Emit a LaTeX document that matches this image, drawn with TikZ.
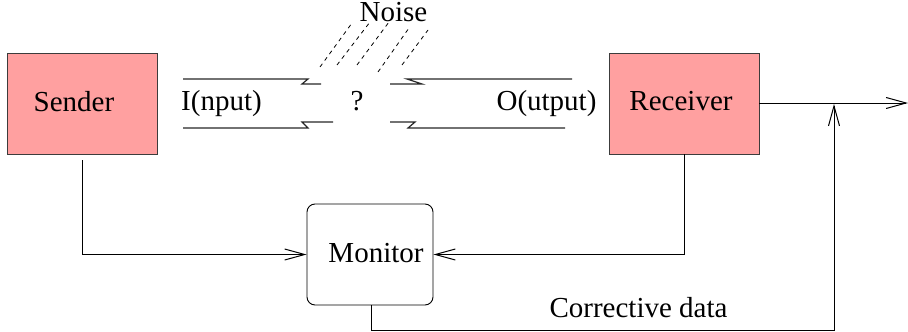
\documentclass[tikz,border=0pt]{standalone}
\usepackage{fontspec}
\setmainfont{Liberation Serif}
\usetikzlibrary{arrows.meta}
\definecolor{boxpink}{RGB}{255,160,160}
\definecolor{boxedge}{RGB}{60,60,60}
\tikzset{
  lbl/.style={font=\fontsize{29}{34}\selectfont, inner sep=0pt, anchor=base},
  pinkbox/.style={draw=boxedge, fill=boxpink, line width=0.9pt, minimum width=150pt, minimum height=101pt, inner sep=0pt},
  monbox/.style={draw=black, rounded corners=8pt, line width=0.9pt, minimum width=126pt, minimum height=101pt, inner sep=0pt},
  wire/.style={line width=1pt, draw=black},
  arr/.style={wire, -{Straight Barb[length=20pt,width=11pt,line width=1pt]}},
  brk/.style={line width=1.2pt, draw=black!85},
  noise/.style={line width=0.8pt, dash pattern=on 4pt off 4pt}
}
\begin{document}
\begin{tikzpicture}[x=1pt,y=-1pt]
\useasboundingbox (0,0) rectangle (908,332);
% boxes
\node[pinkbox] (sender) at (82,103.5) {};
\node[pinkbox] (receiver) at (684,103.5) {};
\node[monbox] (monitor) at (370,254.5) {};
% labels
\node[lbl] (tsender) at (74,111) {Sender};
\node[lbl] (treceiver) at (681,110) {Receiver};
\node[lbl] (tmonitor) at (376,262) {Monitor};
\node[lbl] (tcorr) at (638.5,317) {Corrective data};
\node[lbl] (tin) at (221.5,110) {I(nput)};
\node[lbl] (tq) at (357,110) {?};
\node[lbl] (tout) at (546.5,110) {O(utput)};
% noise lines
\draw[noise] (320,67) -- (352,23);
\draw[noise] (337,65) -- (370,22);
\draw[noise] (357,65) -- (389,22);
\draw[noise] (378,72) -- (409,28);
\draw[noise] (402,65) -- (428,30);
\node[lbl] (tnoise) at (393.5,21) {Noise};
% channel with breaks
\draw[brk] (183,79) -- (308,79) -- (302,84) -- (321,84);
\draw[brk] (183,128) -- (308,128) -- (302,122) -- (333,122);
\draw[brk] (390,84) -- (422,84) -- (407,79) -- (572,79);
\draw[brk] (390,122) -- (415,122) -- (408,128) -- (565,128);
% connectors
\coordinate (sstart) at (82,160);
\draw[arr] (sstart) |- (monitor.west);
\draw[arr] (receiver.south) |- (monitor.east);
\coordinate (outend) at (908,103);
\draw[arr] (receiver.east |- outend) -- (outend);
\coordinate (upend) at (834,104);
\coordinate (mbot) at (371,330);
\draw[arr] ([xshift=1pt]monitor.south) -- (mbot) -- (mbot -| upend) -- (upend);
\end{tikzpicture}
\end{document}
